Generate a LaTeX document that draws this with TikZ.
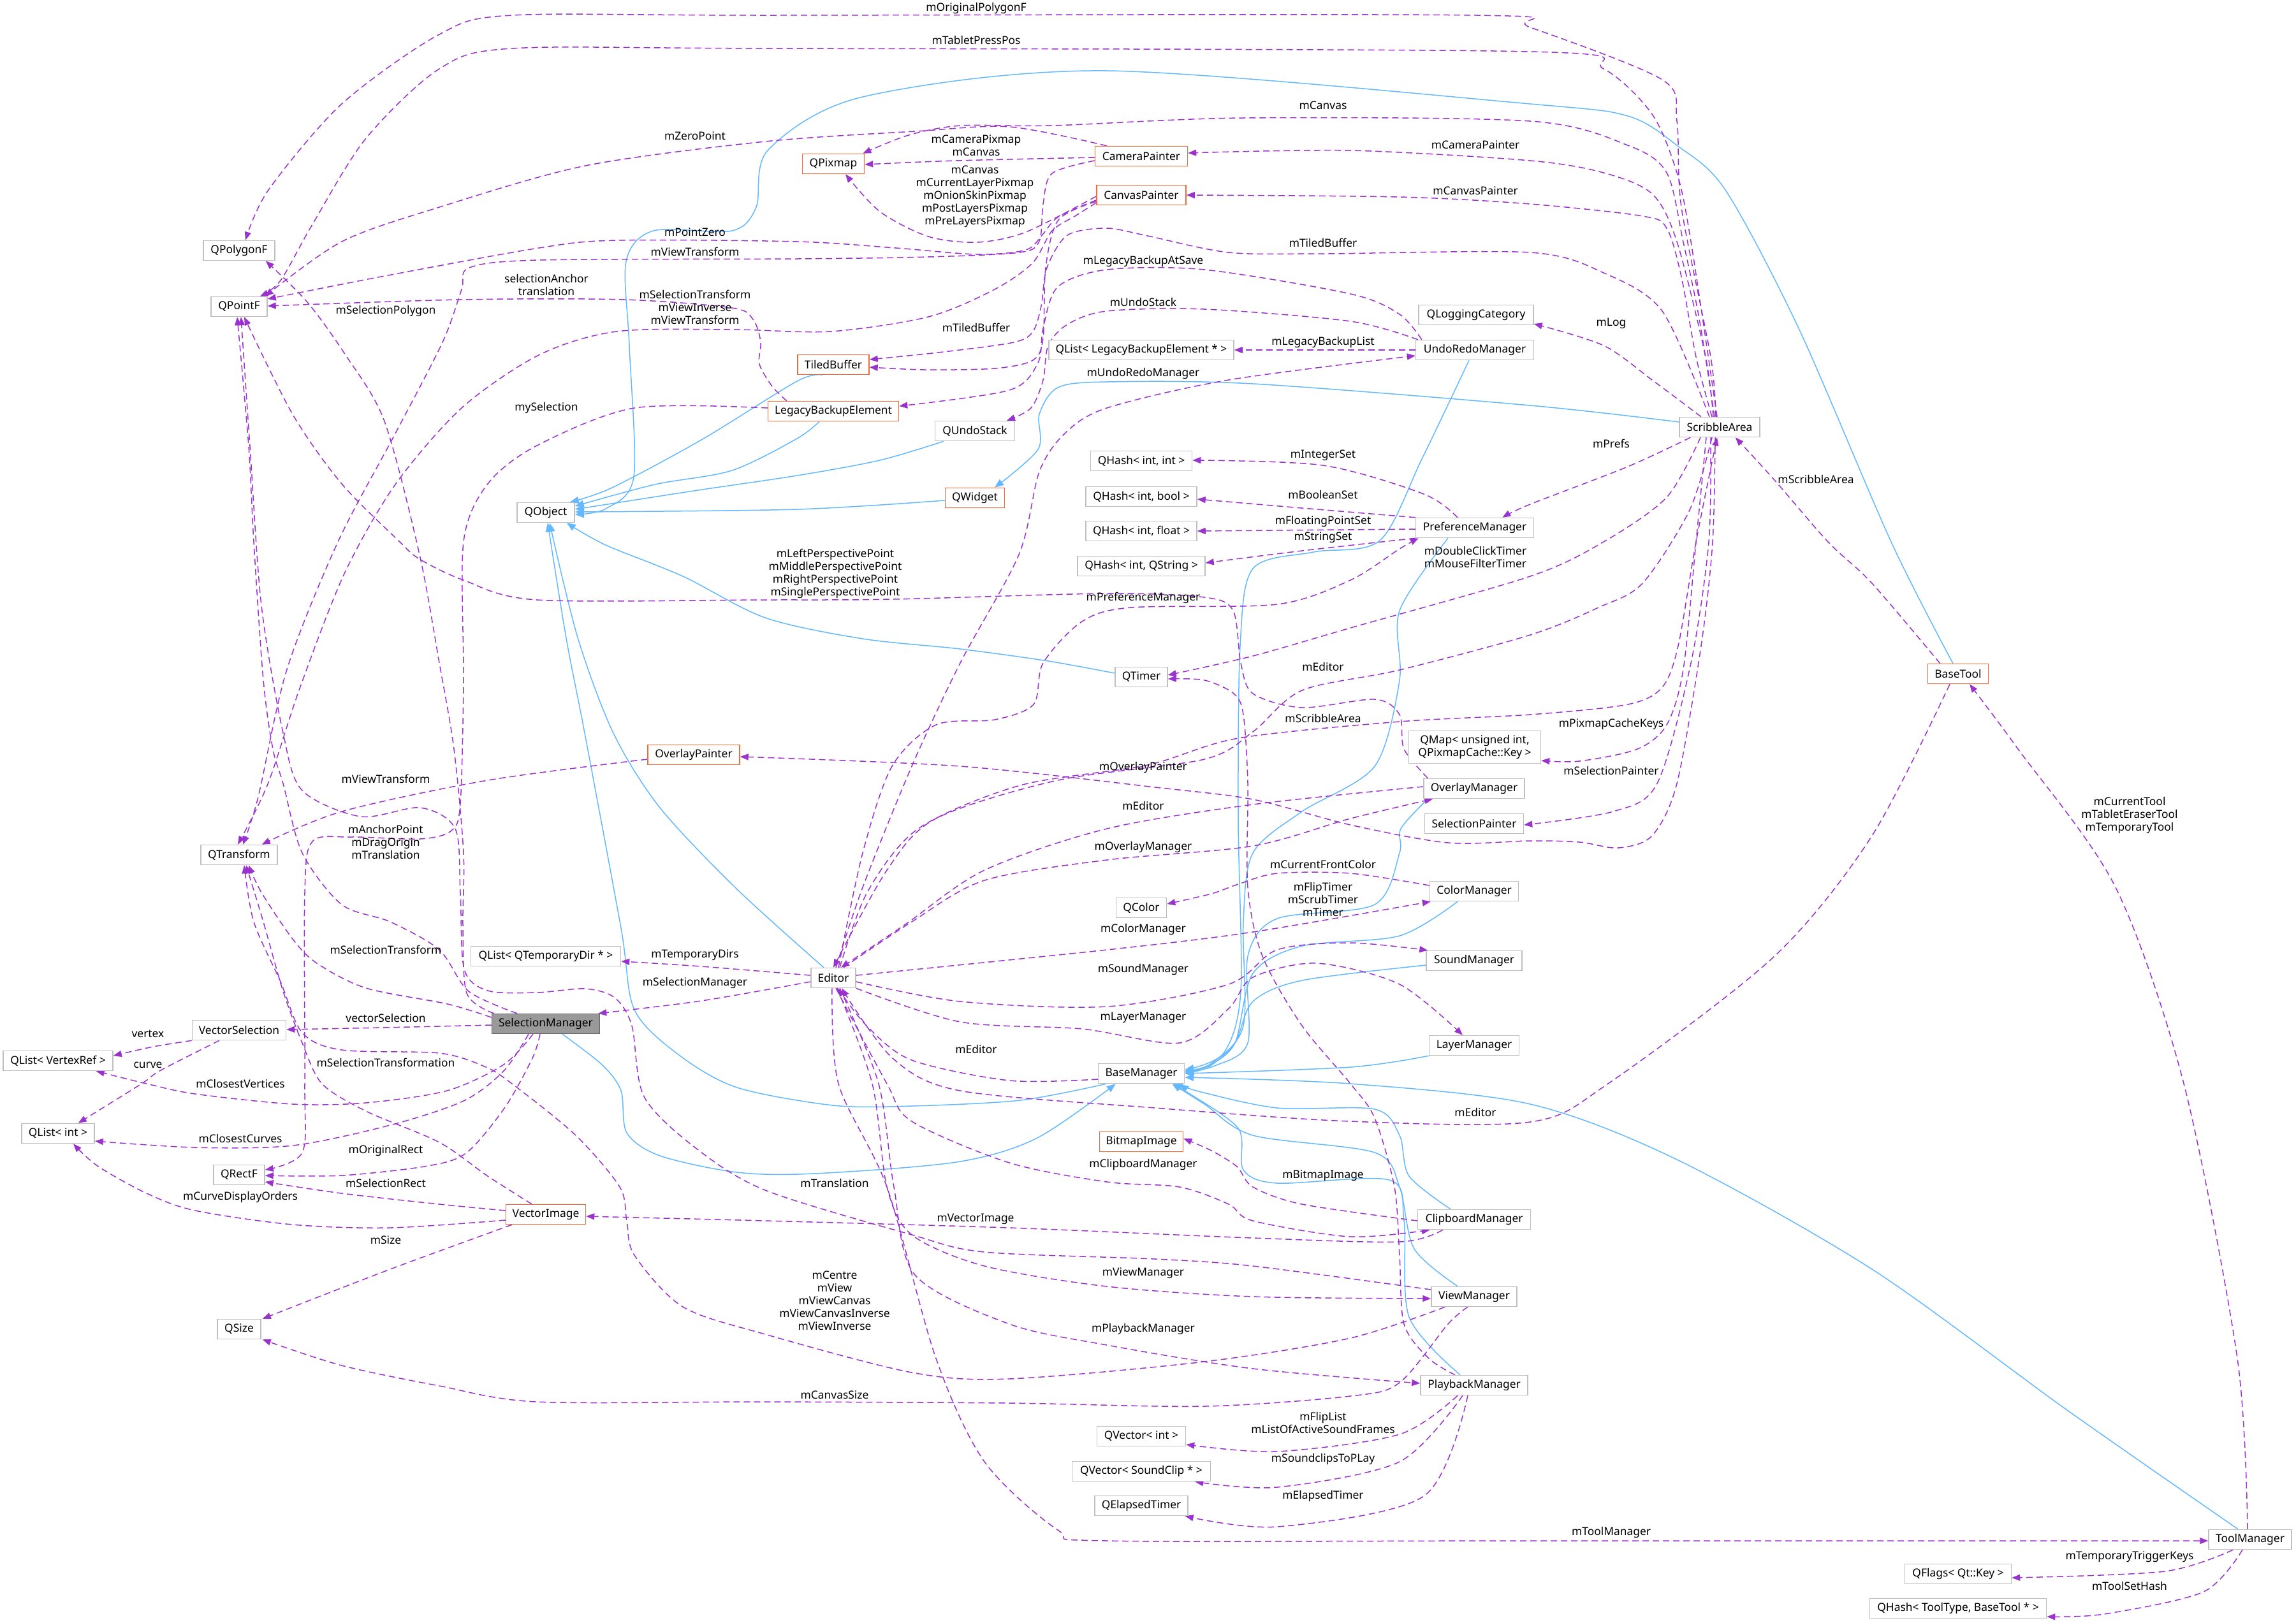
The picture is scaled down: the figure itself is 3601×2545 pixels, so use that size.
\documentclass[tikz,border=0pt]{standalone}
\usepackage{fontspec}
\usetikzlibrary{arrows.meta,calc}
\newfontfamily\dxfont{Noto Sans}
\newcommand\dxf{\dxfont\fontsize{8.7pt}{10pt}\selectfont}
\definecolor{depc}{HTML}{9A32CD}
\definecolor{inhc}{HTML}{63B8FF}
\definecolor{boxg}{HTML}{BFBFBF}
\definecolor{boxr}{HTML}{FF6633}
\definecolor{smfill}{HTML}{999999}
\definecolor{smdraw}{HTML}{666666}
\pgfdeclarelayer{bg}
\pgfsetlayers{bg,main}
\begin{document}
\begin{tikzpicture}[x=0.5pt,y=-0.5pt,
  cls/.style={draw=boxg, line width=0.75pt, fill=white, minimum height=15.5pt, inner xsep=3pt, inner ysep=0pt, font=\dxf, text=black},
  ext/.style={cls, draw=boxr},
  dep/.style={draw=depc, line width=0.75pt, dash pattern=on 5pt off 3pt, -{Triangle[length=6.5pt,width=5pt]}},
  inh/.style={draw=inhc, line width=0.75pt, -{Triangle[length=7pt,width=5.5pt]}},
  lab/.style={font=\dxf, align=center, inner sep=0pt, text=black}]
\useasboundingbox (0,0) rectangle (3601,2545);
% ---------------- nodes
\node[cls,minimum width=56pt] (qpoly) at (375,393) {QPolygonF};
\node[cls,minimum width=44pt] (qpt) at (375,481) {QPointF};
\node[cls,minimum width=60pt] (qtr) at (375,1341) {QTransform};
\node[cls,minimum width=73.5pt] (vsel) at (375,1616) {VectorSelection};
\node[cls,minimum width=86pt] (qlvr) at (91,1664) {QList< VertexRef >};
\node[cls,minimum width=57pt] (qlint) at (91,1778) {QList< int >};
\node[cls,minimum width=40pt] (qrect) at (375,1843) {QRectF};
\node[cls,minimum width=34pt] (qsize) at (375,2085) {QSize};
\node[cls,minimum width=45pt] (qobj) at (856,804) {QObject};
\node[cls,minimum width=117.5pt] (qltd) at (856,1500) {QList< QTemporaryDir * >};
\node[cls,minimum width=84.5pt,fill=smfill,draw=smdraw] (sm) at (856,1606) {SelectionManager};
\node[ext,minimum width=62.5pt] (vimg) at (856,1905) {VectorImage};
\node[ext,minimum width=72pt] (ovp) at (1088,1184) {OverlayPainter};
\node[ext,minimum width=48.5pt] (qpix) at (1307,257) {QPixmap};
\node[ext,minimum width=56pt] (tb) at (1307,572) {TiledBuffer};
\node[ext,minimum width=102.5pt] (lbe) at (1307,645) {LegacyBackupElement};
\node[cls,minimum width=35pt] (ed) at (1307,1534) {Editor};
\node[cls,minimum width=62.5pt] (qus) at (1529,676) {QUndoStack};
\node[ext,minimum width=46.5pt] (qw) at (1529,781) {QWidget};
\node[ext,minimum width=72.5pt] (camp) at (1790,245) {CameraPainter};
\node[ext,minimum width=70pt] (canp) at (1790,306) {CanvasPainter};
\node[cls,minimum width=145pt] (qllbe) at (1790,549) {QList< LegacyBackupElement * >};
\node[cls,minimum width=79.5pt] (qhii) at (1790,723) {QHash< int, int >};
\node[cls,minimum width=87pt] (qhib) at (1790,779) {QHash< int, bool >};
\node[cls,minimum width=87pt] (qhif) at (1790,833) {QHash< int, float >};
\node[cls,minimum width=100pt] (qhis) at (1790,888) {QHash< int, QString >};
\node[cls,minimum width=41pt] (qtimer) at (1790,1062) {QTimer};
\node[cls,minimum width=39.5pt] (qcolor) at (1790,1424) {QColor};
\node[cls,minimum width=67.5pt] (bm) at (1790,1684) {BaseManager};
\node[ext,minimum width=65.5pt] (bmp) at (1790,1791) {BitmapImage};
\node[cls,minimum width=69.5pt] (qvi) at (1790,2253) {QVector< int >};
\node[cls,minimum width=108.5pt] (qvsc) at (1790,2308) {QVector< SoundClip * >};
\node[cls,minimum width=73pt] (qet) at (1790,2362) {QElapsedTimer};
\node[cls,minimum width=90pt] (qlog) at (2315,494) {QLoggingCategory};
\node[cls,minimum width=92.5pt] (urm) at (2313,549) {UndoRedoManager};
\node[cls,minimum width=92.5pt] (pm) at (2313,828) {PreferenceManager};
\node[cls,minimum width=103.5pt,minimum height=25.5pt,align=center] (qmap) at (2313,1172) {QMap< unsigned int,\\QPixmapCache::Key >};
\node[cls,minimum width=79pt] (om) at (2312,1237) {OverlayManager};
\node[cls,minimum width=77.5pt] (sp) at (2312,1292) {SelectionPainter};
\node[cls,minimum width=69.5pt] (cm) at (2312,1398) {ColorManager};
\node[cls,minimum width=75pt] (sndm) at (2312,1507) {SoundManager};
\node[cls,minimum width=70.5pt] (lm) at (2312,1640) {LayerManager};
\node[cls,minimum width=88.5pt] (cbm) at (2312,1913) {ClipboardManager};
\node[cls,minimum width=67pt] (vm) at (2312,2034) {ViewManager};
\node[cls,minimum width=84pt] (pbm) at (2312,2173) {PlaybackManager};
\node[cls,minimum width=63pt] (sa) at (2697,670) {ScribbleArea};
\node[ext,minimum width=47.5pt] (bt) at (3071,1057) {BaseTool};
\node[cls,minimum width=65pt] (tm) at (3529,2415) {ToolManager};
\node[cls,minimum width=83.5pt] (qflags) at (3071,2469) {QFlags< Qt::Key >};
\node[cls,minimum width=138.5pt] (qhtt) at (3071,2523) {QHash< ToolType, BaseTool * >};
% ---------------- edges
\begin{pgfonlayer}{bg}
\fill[white] (0,0) rectangle (3601,2545);
% inheritance
\draw[inh] plot[smooth] coordinates {($(tb.south)+(-17,0)$) (1250,598) (1100,690) (960,765) ($(qobj.north east)+(-8,0)$)};
\draw[inh] plot[smooth] coordinates {($(lbe.south)+(-22,0)$) (1250,688) (1148,738) (1027,760) ($(qobj.east)+(0,-10)$)};
\draw[inh] plot[smooth] coordinates {($(qus.south west)+(14,0)$) (1380,722) (1250,746) (1088,770) ($(qobj.east)+(0,-5)$)};
\draw[inh] plot[smooth] coordinates {($(qw.west)+(0,4)$) (1250,799) ($(qobj.east)+(0,-1)$)};
\draw[inh] plot[smooth] coordinates {($(bt.north)+(-8,0)$) (2966,850) (2821,515) (2706,298) (2630,228) (2553,182) (2400,163) (1736,111) (1353,152) (1205,235) (1186,325) (1148,362) (1025,362) (982,410) (987,542) (994,748) (950,798) ($(qobj.east)+(0,3)$)};
\draw[inh] plot[smooth] coordinates {($(qtimer.west)+(0,-6)$) (1644,1037) (1506,1018) (1353,1002) (1200,969) (1071,904) (950,855) ($(qobj.south east)+(-13,0)$)};
\draw[inh] plot[smooth] coordinates {($(ed.north)+(-15,0)$) (1156,1395) (1035,1267) (962,1150) (906,1000) ($(qobj.south)+(6,0)$)};
\draw[inh] plot[smooth] coordinates {($(bm.south west)+(13,0)$) (1600,1726) (1430,1735) (1307,1734) (1156,1706) (1065,1655) (995,1584) (974,1456) (917,1150) (888,1001) ($(qobj.south)+(3,0)$)};
\draw[inh] plot[smooth] coordinates {($(sm.south)+(26,0)$) (944,1670) (974,1711) (983,1777) (1035,1813) (1156,1839) (1277,1841) (1500,1823) (1625,1786) ($(bm.south west)+(28,0)$)};
\draw[inh] plot[smooth] coordinates {($(sa.west)+(0,-8)$) (2400,636) (1965,602) (1736,599) (1659,608) (1630,650) (1628,705) ($(qw.north)+(31,0)$)};
\draw[inh] plot[smooth] coordinates {($(urm.south)+(-9,0)$) (2230,720) (2164,848) (2060,866) (1965,892) (1945,1013) (1942,1284) (1946,1555) (1919,1652) ($(bm.east)+(0,-6)$)};
\draw[inh] plot[smooth] coordinates {($(pm.south)+(-42,0)$) (2195,958) (2195,1067) (2156,1202) (2042,1273) (1965,1338) (1950,1446) (1950,1609) (1900,1668) ($(bm.east)+(0,-4)$)};
\draw[inh] plot[smooth] coordinates {($(om.south west)+(7,0)$) (2197,1300) (2195,1338) (2156,1419) (2003,1441) (1957,1500) (1957,1636) (1905,1672) ($(bm.east)+(0,-2)$)};
\draw[inh] plot[smooth] coordinates {($(cm.south)+(-26,0)$) (2195,1468) (2042,1484) (1965,1527) (1937,1636) (1895,1672) ($(bm.east)+(0,-3)$)};
\draw[inh] plot[smooth] coordinates {($(sndm.west)+(0,7)$) (2042,1538) (1965,1571) (1937,1636) (1895,1674) ($(bm.east)+(0,-1)$)};
\draw[inh] plot[smooth] coordinates {(lm.south west) (2118,1674) (bm.east)};
\draw[inh] plot[smooth] coordinates {($(cbm.north)+(-37,0)$) (2210,1845) (2195,1781) (2156,1740) (2003,1738) (1880,1712) ($(bm.south east)+(-8,0)$)};
\draw[inh] plot[smooth] coordinates {($(vm.north)+(-26,0)$) (2218,1959) (2195,1862) (2156,1808) (1965,1781) (1889,1732) ($(bm.south east)+(-20,0)$)};
\draw[inh] plot[smooth] coordinates {($(pbm.north)+(-22,0)$) (2210,2066) (2202,1915) (2179,1851) (2003,1856) (1950,1835) (1942,1770) (1860,1712) ($(bm.south east)+(-18,0)$)};
\draw[inh] plot[smooth] coordinates {($(tm.north)+(-19,0)$) (3242,2212) (2936,1991) (2630,1819) (2400,1732) (2118,1700) ($(bm.east)+(0,6)$)};
% usage: ScribbleArea
\draw[dep] plot[smooth] coordinates {($(sa.north)+(-6,0)$) (2683,560) (2637,325) (2630,190) (2607,125) (2400,43) (2317,24) (1200,24) (803,24) (689,54) (536,163) (421,298) ($(qpoly.north)+(10,0)$)};
\draw[dep] plot[smooth] coordinates {($(sa.north)+(-4,0)$) (2652,379) (2630,271) (2591,179) (2515,108) (2400,81) (1200,76) (803,76) (689,108) (574,217) (490,352) (440,440) ($(qpt.north east)+(-12,0)$)};
\draw[dep] plot[smooth] coordinates {($(sa.north)+(-8,0)$) (2665,500) (2640,380) (2614,271) (2553,228) (2400,190) (1950,185) (1650,197) (1507,197) (1425,212) ($(qpix.north east)+(-3,0)$)};
\draw[dep] plot[smooth] coordinates {($(sa.north)+(-10,0)$) (2675,560) (2630,379) (2591,304) (2515,271) (2400,252) (2118,236) ($(camp.east)+(0,-5)$)};
\draw[dep] plot[smooth] coordinates {($(sa.north)+(-12,0)$) (2660,560) (2637,434) (2614,358) (2576,339) (2400,320) (2195,309) (canp.east)};
\draw[dep] plot[smooth] coordinates {($(sa.north)+(-16,0)$) (2607,488) (2515,428) (2400,396) (2075,398) (1927,396) (1800,370) (1736,358) (1674,369) (1642,420) (1633,480) (1620,520) (1590,537) (1480,552) ($(tb.east)+(0,-8)$)};
\draw[dep] plot[smooth] coordinates {($(sa.north)+(-29,0)$) (2591,596) (2515,542) ($(qlog.east)+(0,14)$)};
\draw[dep] plot[smooth] coordinates {($(sa.south west)+(18,0)$) (2553,732) (2400,791) ($(pm.north east)+(-50,0)$)};
\draw[dep] plot[smooth] coordinates {($(sa.south)+(-30,0)$) (2614,780) (2515,850) (2400,904) (2118,985) (1965,1029) ($(qtimer.east)+(0,-3)$)};
\draw[dep] plot[smooth] coordinates {($(sa.south)+(-12,0)$) (2650,800) (2576,915) (2507,953) (2400,996) (2195,1051) (2042,1083) (1965,1148) (1889,1191) (1659,1224) (1468,1284) (1391,1365) (ed.north)};
\draw[dep] plot[smooth] coordinates {($(sa.south)+(-21,0)$) (2660,850) (2640,1050) (2614,1137) (2568,1175) (2477,1194) ($(qmap.east)+(0,21)$)};
\draw[dep] plot[smooth] coordinates {($(sa.south)+(-14,0)$) (2680,850) (2652,1040) (2599,1229) (2530,1273) ($(sp.east)+(0,2)$)};
\draw[dep] plot[smooth] coordinates {($(sa.south)+(-7,0)$) (2686,850) (2668,1013) (2630,1229) (2591,1311) (2538,1330) (2477,1321) (2400,1319) (2271,1322) (2118,1294) (1965,1254) (1812,1235) (1506,1202) ($(ovp.east)+(0,3)$)};
% CanvasPainter / CameraPainter
\draw[dep] plot[smooth] coordinates {($(canp.west)+(0,10)$) (1660,345) (1640,420) (1636,530) (1620,565) (1560,578) (1450,580) ($(tb.east)+(0,4)$)};
\draw[dep] plot[smooth] coordinates {($(camp.west)+(0,7)$) (1650,272) (1636,320) (1630,378) (1599,396) (1456,403) (1250,406) (845,408) (736,420) (724,454) (694,537) (620,680) (530,850) (450,1050) (405,1250) ($(qtr.north)+(6,0)$)};
\draw[dep] plot[smooth] coordinates {($(canp.west)+(0,12)$) (1686,339) (1650,362) (1619,413) (1558,455) (1456,497) (1303,520) (1150,517) (967,520) (845,557) (724,640) (620,760) (540,900) (470,1080) (420,1230) ($(qtr.north)+(-2,0)$)};
\draw[dep] plot[smooth] coordinates {($(canp.west)+(0,2)$) (1609,364) (1533,380) (1456,371) (1380,332) ($(qpix.south)+(19,0)$)};
\draw[dep] plot[smooth] coordinates {($(canp.west)+(0,8)$) (1660,340) (1635,368) (1609,392) (1533,399) (1405,389) (1250,379) (967,377) (845,389) (603,433) ($(qpt.east)+(0,-12)$)};
\draw[dep] plot[smooth] coordinates {($(camp.west)+(0,2)$) (1500,252) ($(qpix.east)+(0,1)$)};
\draw[dep] plot[smooth] coordinates {($(camp.north west)+(19,0)$) (1584,199) (1436,206) (1200,222) (918,260) (689,325) (536,379) ($(qpt.north east)+(-4,0)$)};
% LegacyBackupElement
\draw[dep] plot[smooth] coordinates {($(lbe.north west)+(30,0)$) (1211,606) (1191,571) (1193,536) (1181,501) (1148,483) (979,470) (724,470) ($(qpt.east)+(0,-1)$)};
\draw[dep] plot[smooth] coordinates {($(lbe.west)+(0,-5)$) (995,640) (842,699) (765,759) (727,850) (727,1067) (722,1260) (708,1303) (659,1316) (550,1313) (490,1320) (478,1400) (478,1700) (474,1808) ($(qrect.east)+(0,-8)$)};
% Editor
\draw[dep] plot[smooth] coordinates {($(ed.north)+(10,0)$) (1360,1400) (1440,1300) (1600,1232) (1800,1200) (1942,1158) (2195,1132) (2400,1121) (2553,1105) (2607,1078) (2632,1013) (2660,850) ($(sa.south)+(-4,0)$)};
\draw[dep] plot[smooth] coordinates {($(ed.south)+(-2,0)$) (1315,1700) (1391,1862) (1468,2131) (1544,2293) (1659,2400) (1736,2417) (2400,2417) ($(tm.west)+(0,2)$)};
\draw[dep] plot[smooth] coordinates {($(ed.south)+(6,0)$) (1368,1700) (1391,1862) (1430,1937) (1544,1986) (1736,2018) (1965,2034) ($(vm.west)+(0,3)$)};
\draw[dep] plot[smooth] coordinates {($(ed.south)+(10,0)$) (1378,1700) (1402,1862) (1435,2000) (1583,2077) (1736,2110) (1965,2147) ($(pbm.west)+(0,-3)$)};
\draw[dep] plot[smooth] coordinates {($(ed.south)+(4,0)$) (1391,1700) (1430,1759) (1583,1824) (1736,1854) (1850,1862) (1927,1889) (1965,1915) (2118,1940) ($(cbm.south west)+(20,0)$)};
\draw[dep] plot[smooth] coordinates {($(ed.west)+(0,-4)$) (1100,1516) ($(qltd.east)+(0,8)$)};
\draw[dep] plot[smooth] coordinates {($(ed.west)+(0,6)$) (1100,1570) ($(sm.north east)+(-3,0)$)};
\draw[dep] plot[smooth] coordinates {($(ed.north)+(4,0)$) (1353,1392) (1430,1202) (1506,1040) (1598,870) (1630,740) (1670,680) (1736,640) (1927,596) ($(urm.west)+(0,9)$)};
\draw[dep] plot[smooth] coordinates {($(ed.north)+(8,0)$) (1353,1338) (1399,1202) (1468,1137) (1560,1129) (1621,1105) (1636,1040) (1697,975) (1774,953) (2003,948) (2118,910) (2195,861) ($(pm.south west)+(5,0)$)};
\draw[dep] plot[smooth] coordinates {($(ed.north)+(16,0)$) (1430,1446) (1544,1381) (1736,1349) (1965,1327) (2118,1284) ($(om.south west)+(15,0)$)};
\draw[dep] plot[smooth] coordinates {($(ed.east)+(0,-4)$) (1736,1490) (1965,1462) ($(cm.south west)+(2,0)$)};
\draw[dep] plot[smooth] coordinates {($(ed.east)+(0,6)$) (1506,1571) (1736,1579) (1927,1544) (2003,1490) (2118,1479) ($(sndm.north west)+(3,0)$)};
\draw[dep] plot[smooth] coordinates {(ed.south east) (1506,1603) (1697,1614) (1850,1636) (1927,1582) (1965,1533) (2065,1511) (2195,1544) ($(lm.north)+(-18,0)$)};
% into Editor
\draw[dep] plot[smooth] coordinates {($(bm.west)+(0,9)$) (1583,1695) (1430,1663) (1360,1610) ($(ed.south)+(7,0)$)};
\draw[dep] plot[smooth] coordinates {($(om.west)+(0,-3)$) (1965,1262) (1736,1300) (1544,1365) (1420,1450) ($(ed.north)+(12,0)$)};
\draw[dep] plot[smooth] coordinates {($(bt.south)+(-13,0)$) (2936,1311) (2783,1500) (2522,1700) (2400,1760) (2118,1759) (1812,1738) (1506,1711) (1400,1660) ($(ed.south)+(13,0)$)};
% BaseTool / ToolManager
\draw[dep] plot[smooth] coordinates {($(bt.north west)+(20,0)$) (2936,915) (2867,850) (2783,753) ($(sa.south east)+(-39,0)$)};
\draw[dep] plot[smooth] coordinates {($(tm.north)+(-4,0)$) (3509,2131) (3425,1700) (3318,1392) (3165,1175) ($(bt.south)+(18,0)$)};
\draw[dep] plot[smooth] coordinates {($(tm.south)+(-27,0)$) (3395,2465) ($(qflags.east)+(0,6)$)};
\draw[dep] plot[smooth] coordinates {($(tm.south)+(-12,0)$) (3456,2497) (3300,2532) ($(qhtt.east)+(0,13)$)};
% UndoRedoManager / PreferenceManager
\draw[dep] (urm.west) -- (qllbe.east);
\draw[dep] plot[smooth] coordinates {($(urm.north west)+(10,0)$) (2195,493) (2118,461) (1889,423) (1736,423) (1659,450) (1636,515) (1628,569) (1583,612) ($(lbe.east)+(0,-8)$)};
\draw[dep] plot[smooth] coordinates {($(urm.north west)+(4,0)$) (2118,504) (1889,485) (1736,488) (1674,509) (1644,542) (1636,596) (1617,640) ($(qus.north)+(50,0)$)};
\draw[dep] plot[smooth] coordinates {($(pm.north)+(-27,0)$) (2233,775) (2075,730) ($(qhii.east)+(0,-1)$)};
\draw[dep] plot[smooth] coordinates {(pm.north west) (2042,797) ($(qhib.east)+(0,4)$)};
\draw[dep] ($(pm.west)+(0,2)$) -- (qhif.east);
\draw[dep] plot[smooth] coordinates {(pm.south west) (2042,864) ($(qhis.east)+(0,-5)$)};
% Playback / Color / Clipboard
\draw[dep] plot[smooth] coordinates {($(pbm.north)+(-30,0)$) (2241,2131) (2202,2077) (2195,1969) (2187,1862) (2156,1754) (2118,1700) (2042,1609) (1980,1500) (1957,1392) (1957,1229) (1950,1121) (1935,1088) (1889,1067) ($(qtimer.east)+(0,3)$)};
\draw[dep] plot[smooth] coordinates {($(cm.west)+(0,-9)$) (2118,1370) (2003,1370) (1942,1387) (1900,1402) ($(qcolor.east)+(0,-6)$)};
\draw[dep] plot[smooth] coordinates {($(cbm.west)+(0,2)$) (2042,1889) (1965,1862) (1940,1830) (1900,1805) ($(bmp.east)+(0,-5)$)};
\draw[dep] plot[smooth] coordinates {($(cbm.south west)+(40,0)$) (2195,1948) (1965,1942) (1583,1926) (1200,1915) (1000,1910) ($(vimg.east)+(0,3)$)};
\draw[dep] plot[smooth] coordinates {($(pbm.south)+(-26,0)$) (2195,2250) (2003,2277) ($(qvi.east)+(0,13)$)};
\draw[dep] plot[smooth] coordinates {($(pbm.south)+(-18,0)$) (2195,2293) (2003,2333) ($(qvsc.south east)+(-25,0)$)};
\draw[dep] plot[smooth] coordinates {($(pbm.south)+(-10,0)$) (2233,2347) (2003,2395) ($(qet.south east)+(-5,0)$)};
% ViewManager / OverlayManager
\draw[dep] plot[smooth] coordinates {($(vm.west)+(0,-11)$) (1965,1986) (1812,1975) (1544,1964) (1430,1937) (1200,1867) (1090,1800) (1010,1720) (991,1609) (964,1565) (918,1551) (842,1557) (765,1554) (728,1520) (722,1400) (714,1300) (659,1267) (566,1281) (474,1240) (444,1150) (410,950) (392,700) ($(qpt.south)+(3,0)$)};
\draw[dep] plot[smooth] coordinates {($(vm.south west)+(22,0)$) (2118,2099) (1889,2136) (1583,2163) (1430,2153) (1200,2093) (1071,2050) (995,1969) (983,1915) (972,1862) (903,1781) (803,1700) (760,1673) (689,1652) (536,1647) (474,1620) (440,1540) (398,1446) ($(qtr.south)+(8,0)$)};
\draw[dep] plot[smooth] coordinates {($(vm.south)+(-10,0)$) (2271,2077) (2195,2169) (2118,2190) (1889,2206) (1583,2201) (1200,2199) (842,2199) (689,2174) (536,2142) ($(qsize.south east)+(2,0)$)};
\draw[dep] plot[smooth] coordinates {($(om.north west)+(7,0)$) (2202,1175) (2195,1121) (2156,1097) (2042,1110) (1965,1088) (1946,1040) (1934,958) (1889,937) (1736,931) (1400,940) (1200,941) (842,941) (727,910) (658,877) (627,850) (536,759) (459,650) ($(qpt.south)+(8,0)$)};
% SelectionManager
\draw[dep] plot[smooth] coordinates {($(sm.north)+(-45,0)$) (735,1555) (689,1490) (612,1446) (536,1419) (474,1338) (444,1229) (428,1175) (413,1067) (398,850) (390,700) ($(qpt.south)+(-3,0)$)};
\draw[dep] plot[smooth] coordinates {($(sm.north west)+(4,0)$) (732,1558) (726,1450) (727,1338) (712,1175) (689,1040) (658,870) (603,661) (542,557) (482,474) ($(qpoly.south east)+(-15,0)$)};
\draw[dep] plot[smooth] coordinates {($(sm.west)+(0,-10)$) (702,1575) (574,1550) (497,1511) (459,1473) (410,1400) ($(qtr.south)+(15,0)$)};
\draw[dep] plot[smooth] coordinates {($(sm.west)+(0,2)$) (600,1612) ($(vsel.east)+(0,-1)$)};
\draw[dep] plot[smooth] coordinates {($(sm.south)+(-20,0)$) (790,1670) (701,1711) (574,1730) (459,1732) (306,1716) (230,1700) ($(qlvr.south east)+(-27,0)$)};
\draw[dep] plot[smooth] coordinates {($(sm.south)+(-27,0)$) (790,1680) (727,1727) (612,1765) (459,1797) (306,1800) ($(qlint.east)+(0,12)$)};
\draw[dep] plot[smooth] coordinates {($(sm.south)+(-9,0)$) (835,1660) (792,1737) (732,1808) (671,1829) (536,1844) ($(qrect.east)+(0,1)$)};
% VectorSelection / VectorImage / OverlayPainter
\draw[dep] plot[smooth] coordinates {(vsel.south west) (240,1642) ($(qlvr.east)+(0,-8)$)};
\draw[dep] plot[smooth] coordinates {($(vsel.south)+(-31,0)$) (252,1679) (222,1700) ($(qlint.north east)+(-26,0)$)};
\draw[dep] plot[smooth] coordinates {($(vimg.north)+(-22,0)$) (765,1845) (689,1792) (574,1743) (505,1700) (474,1636) (444,1555) (413,1446) ($(qtr.south)+(11,0)$)};
\draw[dep] plot[smooth] coordinates {($(vimg.west)+(0,-6)$) (689,1889) (536,1872) ($(qrect.east)+(0,11)$)};
\draw[dep] plot[smooth] coordinates {($(vimg.west)+(0,9)$) (612,1926) (459,1921) (306,1899) (230,1872) (153,1829) ($(qlint.south)+(24,0)$)};
\draw[dep] plot[smooth] coordinates {($(vimg.south west)+(10,0)$) (612,1991) ($(qsize.north east)+(2,0)$)};
\draw[dep] plot[smooth] coordinates {($(ovp.west)+(0,7)$) (765,1224) (536,1273) ($(qtr.north east)+(-25,0)$)};
\end{pgfonlayer}
% ---------------- labels
\node[lab] (l1) at (1531,13) {mOriginalPolygonF};
\node[lab] (l2) at (1531,63) {mTabletPressPos};
\node[lab] (l3) at (1090,213) {mZeroPoint};
\node[lab] (l4) at (2075,165) {mCanvas};
\node[lab] (l5) at (1531,228) {mCameraPixmap\\mCanvas};
\node[lab] (l6) at (1529,308) {mCanvas\\mCurrentLayerPixmap\\mOnionSkinPixmap\\mPostLayersPixmap\\mPreLayersPixmap};
\node[lab] (l7) at (2314,227) {mCameraPainter};
\node[lab] (l8) at (2314,299) {mCanvasPainter};
\node[lab] (l9) at (1090,364) {mPointZero};
\node[lab] (l10) at (1090,395) {mViewTransform};
\node[lab] (l11) at (2075,381) {mTiledBuffer};
\node[lab] (l12) at (1793,410) {mLegacyBackupAtSave};
\node[lab] (l13) at (857,447) {selectionAnchor\\translation};
\node[lab] (l14) at (1090,482) {mSelectionTransform\\mViewInverse\\mViewTransform};
\node[lab] (l15) at (605,488) {mSelectionPolygon};
\node[lab] (l16) at (1793,474) {mUndoStack};
\node[lab] (l17) at (2527,507) {mLog};
\node[lab] (l18) at (1531,514) {mTiledBuffer};
\node[lab] (l19) at (2075,537) {mLegacyBackupList};
\node[lab] (l20) at (1793,586) {mUndoRedoManager};
\node[lab] (l21) at (857,640) {mySelection};
\node[lab] (l22) at (2527,696) {mPrefs};
\node[lab] (l23) at (2075,714) {mIntegerSet};
\node[lab] (l24) at (2848,752) {mScribbleArea};
\node[lab] (l25) at (2075,776) {mBooleanSet};
\node[lab] (l26) at (2075,818) {mFloatingPointSet};
\node[lab] (l27) at (2075,843) {mStringSet};
\node[lab] (l28) at (2314,874) {mDoubleClickTimer\\mMouseFilterTimer};
\node[lab] (l29) at (1310,900) {mLeftPerspectivePoint\\mMiddlePerspectivePoint\\mRightPerspectivePoint\\mSinglePerspectivePoint};
\node[lab] (l30) at (1793,938) {mPreferenceManager};
\node[lab] (l31) at (2075,1046) {mEditor};
\node[lab] (l32) at (2075,1127) {mScribbleArea};
\node[lab] (l33) at (2527,1136) {mPixmapCacheKeys};
\node[lab] (l34) at (1793,1204) {mOverlayPainter};
\node[lab] (l35) at (2527,1209) {mSelectionPainter};
\node[lab] (l36) at (605,1222) {mViewTransform};
\node[lab] (l37) at (3340,1279) {mCurrentTool\\mTabletEraserTool\\mTemporaryTool};
\node[lab] (l38) at (1793,1264) {mEditor};
\node[lab] (l39) at (605,1321) {mAnchorPoint\\mDragOrigin\\mTranslation};
\node[lab] (l40) at (1793,1329) {mOverlayManager};
\node[lab] (l41) at (2075,1356) {mCurrentFrontColor};
\node[lab] (l42) at (2075,1411) {mFlipTimer\\mScrubTimer\\mTimer};
\node[lab] (l43) at (1793,1458) {mColorManager};
\node[lab] (l44) at (605,1490) {mSelectionTransform};
\node[lab] (l45) at (1090,1498) {mTemporaryDirs};
\node[lab] (l46) at (1793,1521) {mSoundManager};
\node[lab] (l47) at (1090,1542) {mSelectionManager};
\node[lab] (l48) at (1793,1596) {mLayerManager};
\node[lab] (l49) at (605,1597) {vectorSelection};
\node[lab] (l50) at (232,1622) {vertex};
\node[lab] (l51) at (1531,1646) {mEditor};
\node[lab] (l52) at (605,1667) {mSelectionTransformation};
\node[lab] (l53) at (232,1671) {curve};
\node[lab] (l54) at (377,1700) {mClosestVertices};
\node[lab] (l55) at (2314,1745) {mEditor};
\node[lab] (l56) at (377,1786) {mClosestCurves};
\node[lab] (l57) at (605,1805) {mOriginalRect};
\node[lab] (l58) at (1793,1827) {mClipboardManager};
\node[lab] (l59) at (2075,1844) {mBitmapImage};
\node[lab] (l60) at (1309,1856) {mTranslation};
\node[lab] (l61) at (605,1856) {mSelectionRect};
\node[lab] (l62) at (377,1878) {mCurveDisplayOrders};
\node[lab] (l63) at (1530,1912) {mVectorImage};
\node[lab] (l64) at (605,1945) {mSize};
\node[lab] (l65) at (1793,1997) {mViewManager};
\node[lab] (l66) at (1309,2040) {mCentre\\mView\\mViewCanvas\\mViewCanvasInverse\\mViewInverse};
\node[lab] (l67) at (1793,2085) {mPlaybackManager};
\node[lab] (l68) at (1309,2188) {mCanvasSize};
\node[lab] (l69) at (2075,2232) {mFlipList\\mListOfActiveSoundFrames};
\node[lab] (l70) at (2075,2289) {mSoundclipsToPLay};
\node[lab] (l71) at (2075,2347) {mElapsedTimer};
\node[lab] (l72) at (2527,2404) {mToolManager};
\node[lab] (l73) at (3340,2442) {mTemporaryTriggerKeys};
\node[lab] (l74) at (3340,2488) {mToolSetHash};
\end{tikzpicture}
\end{document}
